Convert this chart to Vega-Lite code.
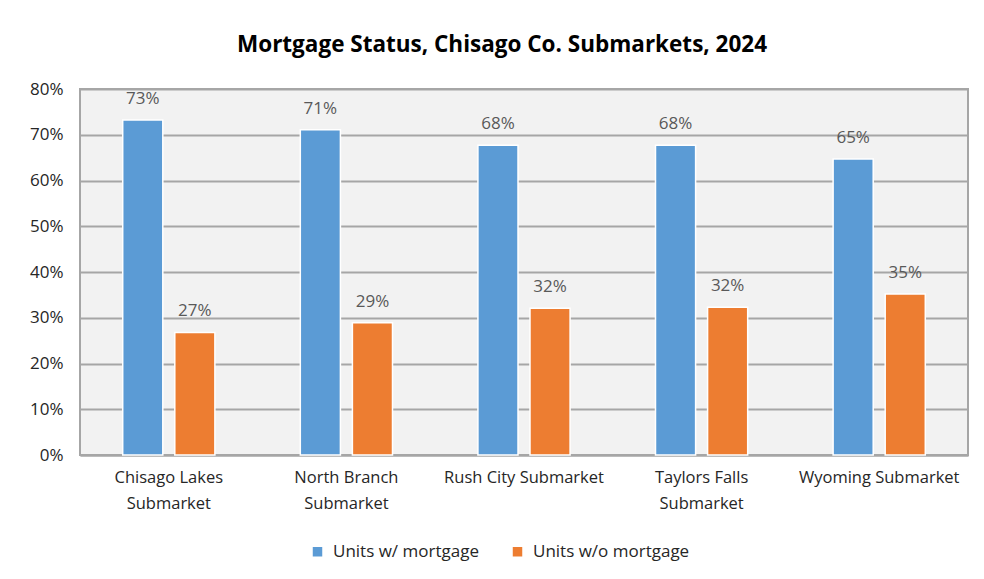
{
  "$schema": "https://vega.github.io/schema/vega-lite/v6.json",
  "width": 888,
  "height": 366,
  "autosize": "none",
  "padding": {"left": 80, "top": 89, "right": 16, "bottom": 124},
  "background": "white",
  "title": {
    "text": "Mortgage Status, Chisago Co. Submarkets, 2024",
    "font": "Open Sans",
    "fontSize": 22.5,
    "fontWeight": "bold",
    "color": "#000000",
    "anchor": "middle",
    "dx": -22,
    "offset": 24
  },
  "data": {
    "values": [
      {"submarket": "Chisago Lakes Submarket", "type": "Units w/ mortgage", "share": 0.732},
      {"submarket": "Chisago Lakes Submarket", "type": "Units w/o mortgage", "share": 0.268},
      {"submarket": "North Branch Submarket", "type": "Units w/ mortgage", "share": 0.711},
      {"submarket": "North Branch Submarket", "type": "Units w/o mortgage", "share": 0.289},
      {"submarket": "Rush City Submarket", "type": "Units w/ mortgage", "share": 0.677},
      {"submarket": "Rush City Submarket", "type": "Units w/o mortgage", "share": 0.321},
      {"submarket": "Taylors Falls Submarket", "type": "Units w/ mortgage", "share": 0.677},
      {"submarket": "Taylors Falls Submarket", "type": "Units w/o mortgage", "share": 0.323},
      {"submarket": "Wyoming Submarket", "type": "Units w/ mortgage", "share": 0.647},
      {"submarket": "Wyoming Submarket", "type": "Units w/o mortgage", "share": 0.352}
    ]
  },
  "encoding": {
    "x": {
      "field": "submarket",
      "type": "nominal",
      "sort": null,
      "scale": {"paddingInner": 0, "paddingOuter": 0},
      "axis": {
        "title": null,
        "labelAngle": 0,
        "labelFont": "Open Sans",
        "labelFontSize": 16.5,
        "labelColor": "#262626",
        "labelPadding": 14,
        "labelLineHeight": 26,
        "ticks": false,
        "domain": true,
        "domainColor": "#A6A6A6",
        "domainWidth": 2,
        "labelExpr": "indexof(datum.value,'Rush')>=0 || indexof(datum.value,'Wyoming')>=0 ? datum.value : [replace(datum.value,' Submarket',''), 'Submarket']"
      }
    },
    "xOffset": {
      "field": "type",
      "type": "nominal",
      "scale": {"paddingInner": 0.23, "paddingOuter": 0.82}
    },
    "y": {
      "field": "share",
      "type": "quantitative",
      "scale": {"domain": [0, 0.8]},
      "axis": {
        "title": null,
        "format": ".0%",
        "values": [0, 0.1, 0.2, 0.3, 0.4, 0.5, 0.6, 0.7, 0.8],
        "labelFont": "Open Sans",
        "labelFontSize": 17,
        "labelColor": "#262626",
        "labelPadding": 17,
        "ticks": false,
        "domain": false,
        "grid": true,
        "gridColor": "#A6A6A6",
        "gridWidth": 2
      }
    }
  },
  "layer": [
    {
      "mark": {"type": "bar", "stroke": "white", "strokeWidth": 1.5},
      "encoding": {
        "color": {
          "field": "type",
          "type": "nominal",
          "scale": {"domain": ["Units w/ mortgage", "Units w/o mortgage"], "range": ["#5B9BD5", "#ED7D31"]},
          "legend": {
            "title": null,
            "orient": "none",
            "legendX": 229,
            "legendY": 454,
            "direction": "horizontal",
            "symbolType": "square",
            "symbolSize": 90,
            "symbolStrokeWidth": 0,
            "labelFont": "Open Sans",
            "labelFontSize": 17,
            "labelColor": "#262626",
            "columnPadding": 30,
            "labelOffset": 7
          }
        }
      }
    },
    {
      "mark": {"type": "text", "baseline": "bottom", "dy": -12, "font": "Open Sans", "fontSize": 17, "color": "#595959"},
      "encoding": {
        "text": {"field": "share", "type": "quantitative", "format": ".0%"}
      }
    }
  ],
  "config": {
    "view": {"fill": "#F2F2F2", "stroke": "#A6A6A6", "strokeWidth": 2}
  }
}
